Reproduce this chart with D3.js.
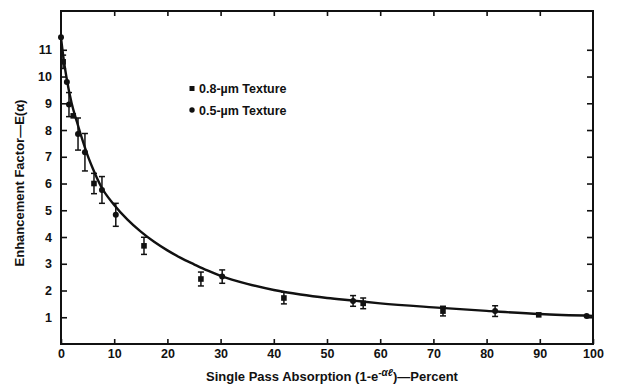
<!DOCTYPE html>
<html>
<head>
<meta charset="utf-8">
<script src="https://cdn.jsdelivr.net/npm/d3@7"></script>
<style>
  body { margin: 0; background: #fff; }
  text { font-family: "Liberation Sans", Arial, sans-serif; font-weight: bold; fill: #111; }
</style>
</head>
<body>
<div id="chart"></div>
<script>
// measured points (absorption %, enhancement factor, error half-height, texture)
const pointX = [0, 0.4, 1.1, 1.5, 2.3, 3.2, 4.5, 6.2, 7.7, 10.3, 15.6, 26.3, 30.3, 41.9, 54.9, 56.8, 71.8, 81.6, 89.8, 98.8];
const pointY = [11.47, 10.55, 9.8, 8.95, 8.53, 7.85, 7.17, 6.0, 5.76, 4.83, 3.67, 2.43, 2.52, 1.72, 1.61, 1.52, 1.23, 1.23, 1.09, 1.05];
const pointErr = [0, 0.25, 0, 0.45, 0, 0.6, 0.7, 0.38, 0.5, 0.43, 0.32, 0.26, 0.25, 0.22, 0.2, 0.2, 0.18, 0.2, 0, 0];
const pointType = ['c', 's', 'c', 'c', 's', 'c', 'c', 's', 'c', 'c', 's', 's', 'c', 's', 'c', 's', 's', 'c', 's', 'c'];

// fitted curve
const curveX = [0, 0.5, 1, 2, 3, 4, 5, 6, 7.5, 10, 12.5, 15, 17.5, 20, 22.5, 25, 27.5, 30, 35, 40, 45, 50, 55, 60, 70, 80, 90, 100];
const curveY = [11.45, 10.65, 10.0, 9.0, 8.3, 7.65, 7.05, 6.55, 5.9, 5.2, 4.65, 4.2, 3.82, 3.5, 3.22, 2.98, 2.75, 2.55, 2.25, 2.02, 1.85, 1.72, 1.62, 1.52, 1.37, 1.24, 1.12, 1.05];

const xTicks = [0, 10, 20, 30, 40, 50, 60, 70, 80, 90, 100];
const yTicks = [1, 2, 3, 4, 5, 6, 7, 8, 9, 10, 11];
const legendLabels = ['0.8-\u00b5m Texture', '0.5-\u00b5m Texture'];

const width = 617;
const height = 385;
const margin = { top: 11, right: 24, bottom: 41, left: 61 };
const innerW = width - margin.left - margin.right;
const innerH = height - margin.top - margin.bottom;

const svg = d3.select('#chart').append('svg')
  .attr('width', width)
  .attr('height', height);

const g = svg.append('g')
  .attr('transform', `translate(${margin.left},${margin.top})`);

const x = d3.scaleLinear().domain([0, 100]).range([0, innerW]);
const y = d3.scaleLinear().domain([0, 12.45]).range([innerH, 0]);

// axes, ticks pointing inward
const xAxis = d3.axisBottom(x).tickValues(xTicks).tickSize(-5).tickPadding(5);
const yAxis = d3.axisLeft(y).tickValues(yTicks).tickSize(-6).tickPadding(9);
const xTop = d3.axisTop(x).tickValues(xTicks.slice(1, -1)).tickSize(-5).tickFormat('');
const yRight = d3.axisRight(y).tickValues(yTicks).tickSize(-6).tickFormat('');

const styleAxis = (sel) => {
  sel.select('.domain').remove();
  sel.selectAll('line').attr('stroke', '#111').attr('stroke-width', 1.6);
  sel.selectAll('text').attr('font-size', 12.5).style('font-weight', 'bold');
};

g.append('g').attr('transform', `translate(0,${innerH})`).call(xAxis).call(styleAxis);
g.append('g').call(yAxis).call(styleAxis);
g.append('g').call(xTop).call(styleAxis);
g.append('g').attr('transform', `translate(${innerW},0)`).call(yRight).call(styleAxis);

g.append('rect')
  .attr('width', innerW)
  .attr('height', innerH)
  .attr('fill', 'none')
  .attr('stroke', '#111')
  .attr('stroke-width', 2);

// fitted curve
const line = d3.line()
  .x((d) => x(d[0]))
  .y((d) => y(d[1]))
  .curve(d3.curveMonotoneX);

g.append('path')
  .datum(d3.zip(curveX, curveY))
  .attr('d', line)
  .attr('fill', 'none')
  .attr('stroke', '#111')
  .attr('stroke-width', 2.4);

// error bars
const pts = pointX.map((px, i) => ({ x: px, y: pointY[i], e: pointErr[i], t: pointType[i] }));
const bars = g.selectAll('.err').data(pts.filter((d) => d.e > 0)).enter().append('g')
  .attr('class', 'err')
  .attr('stroke', '#111')
  .attr('stroke-width', 1.5);

bars.append('line')
  .attr('x1', (d) => x(d.x)).attr('x2', (d) => x(d.x))
  .attr('y1', (d) => y(d.y + d.e)).attr('y2', (d) => y(d.y - d.e));
bars.append('line')
  .attr('x1', (d) => x(d.x) - 3).attr('x2', (d) => x(d.x) + 3)
  .attr('y1', (d) => y(d.y + d.e)).attr('y2', (d) => y(d.y + d.e));
bars.append('line')
  .attr('x1', (d) => x(d.x) - 3).attr('x2', (d) => x(d.x) + 3)
  .attr('y1', (d) => y(d.y - d.e)).attr('y2', (d) => y(d.y - d.e));

// markers
g.selectAll('.sq').data(pts.filter((d) => d.t === 's')).enter().append('rect')
  .attr('class', 'sq')
  .attr('x', (d) => x(d.x) - 2.8).attr('y', (d) => y(d.y) - 2.8)
  .attr('width', 5.6).attr('height', 5.6)
  .attr('fill', '#111');

g.selectAll('.dot').data(pts.filter((d) => d.t === 'c')).enter().append('circle')
  .attr('class', 'dot')
  .attr('cx', (d) => x(d.x)).attr('cy', (d) => y(d.y))
  .attr('r', 3)
  .attr('fill', '#111');

// legend
const legend = svg.append('g').attr('transform', 'translate(192,0)');
legend.append('rect').attr('x', -2.5).attr('y', 86).attr('width', 5).attr('height', 5).attr('fill', '#111');
legend.append('circle').attr('cx', 0).attr('cy', 110).attr('r', 2.7).attr('fill', '#111');
legend.selectAll('.lt').data(legendLabels).enter().append('text')
  .attr('class', 'lt')
  .attr('x', 7)
  .attr('y', (d, i) => 93 + i * 22)
  .attr('font-size', 12.5)
  .text((d) => d);

// axis titles
const xt = svg.append('text')
  .attr('x', 332)
  .attr('y', 381)
  .attr('text-anchor', 'middle')
  .attr('font-size', 13);
xt.append('tspan').text('Single Pass Absorption (1-e');
xt.append('tspan').attr('dy', -5).attr('font-size', 10).style('font-style', 'italic').text('-\u03b1\u2113');
xt.append('tspan').attr('dy', 5).text(')\u2014Percent');

svg.append('text')
  .attr('transform', 'translate(24,183) rotate(-90)')
  .attr('text-anchor', 'middle')
  .attr('font-size', 13)
  .text('Enhancement Factor\u2014E(\u03b1)');
</script>
</body>
</html>
